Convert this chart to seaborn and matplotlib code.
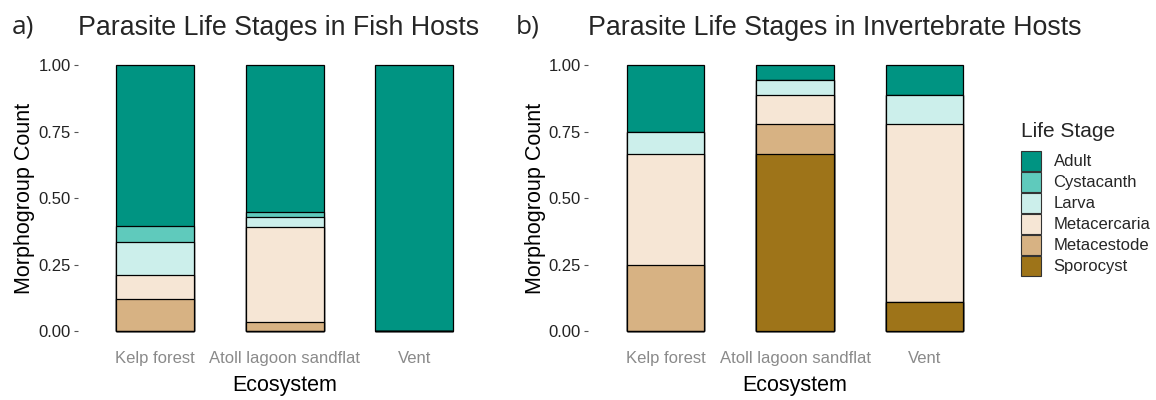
import seaborn as sns
import pandas as pd
import numpy as np
import matplotlib.pyplot as plt
from matplotlib.patches import Patch

ecosystems = ['Kelp forest', 'Atoll lagoon sandflat', 'Vent']
stages = ['Adult', 'Cystacanth', 'Larva', 'Metacercaria', 'Metacestode', 'Sporocyst']
colors = ['#009482', '#5fcabc', '#ccefeb', '#f6e6d5', '#d7b283', '#9e7419']

# morphogroup counts per stage, one value per ecosystem
fish = {
    'Adult':        [20, 31, 5],
    'Cystacanth':   [2, 1, 0],
    'Larva':        [4, 2, 0],
    'Metacercaria': [3, 20, 0],
    'Metacestode':  [4, 2, 0],
    'Sporocyst':    [0, 0, 0],
}
invert = {
    'Adult':        [3, 1, 1],
    'Cystacanth':   [0, 0, 0],
    'Larva':        [1, 1, 1],
    'Metacercaria': [5, 2, 6],
    'Metacestode':  [3, 2, 0],
    'Sporocyst':    [0, 12, 1],
}

sns.set_theme(style='white')
plt.rcParams['font.family'] = ['Liberation Sans', 'DejaVu Sans']

fig = plt.figure(figsize=(11.56, 4), dpi=100)
ax_a = fig.add_axes([0.0671, 0.139, 0.3585, 0.7315])
ax_b = fig.add_axes([0.5085, 0.139, 0.3585, 0.7315])


def stacked(ax, counts, title):
    df = pd.DataFrame(counts, index=ecosystems)
    prop = df.div(df.sum(axis=1), axis=0)
    # cumulative from the bottom (Sporocyst) up to Adult
    cum = prop[stages[::-1]].cumsum(axis=1)
    for st, col in zip(stages, colors):
        d = pd.DataFrame({'Ecosystem': ecosystems, 'p': cum[st].values})
        sns.barplot(data=d, x='Ecosystem', y='p', order=ecosystems, color=col,
                    saturation=1, width=0.6, edgecolor='black', linewidth=0.9,
                    errorbar=None, ax=ax)
    ax.set_xlim(-0.6, 2.6)
    ax.set_ylim(-0.05, 1.05)
    ax.set_yticks([0, 0.25, 0.5, 0.75, 1.0])
    ax.set_yticklabels(['0.00', '0.25', '0.50', '0.75', '1.00'])
    ax.tick_params(axis='y', length=3, width=0.8, color='#555555', labelsize=12,
                   labelcolor='#222222', pad=2, left=True)
    ax.tick_params(axis='x', length=0, labelsize=12, labelcolor='#8a8a8a', pad=5)
    for s in ax.spines.values():
        s.set_visible(False)
    ax.set_xlabel('Ecosystem', fontsize=15.5, color='black', labelpad=6)
    ax.set_ylabel('Morphogroup Count', fontsize=15.5, color='black', labelpad=2)
    ax.set_title(title, loc='left', fontsize=19.3, pad=12)


stacked(ax_a, fish, 'Parasite Life Stages in Fish Hosts')
stacked(ax_b, invert, 'Parasite Life Stages in Invertebrate Hosts')

fig.text(0.010, 0.915, 'a)', fontsize=19, family=['Open Sans', 'DejaVu Sans'])
fig.text(0.446, 0.915, 'b)', fontsize=19, family=['Open Sans', 'DejaVu Sans'])

handles = [Patch(facecolor=c, edgecolor='#333333', linewidth=0.8) for c in colors]
leg = fig.legend(handles, stages, title='Life Stage', loc='upper left',
                 bbox_to_anchor=(0.8775, 0.712), frameon=False, fontsize=12,
                 title_fontsize=15, handlelength=1.2, handleheight=1.5,
                 labelspacing=0.04, handletextpad=0.75, borderaxespad=0)
leg._legend_box.align = 'left'
leg._legend_box.sep = 7

fig.savefig('out.png', dpi=100)
